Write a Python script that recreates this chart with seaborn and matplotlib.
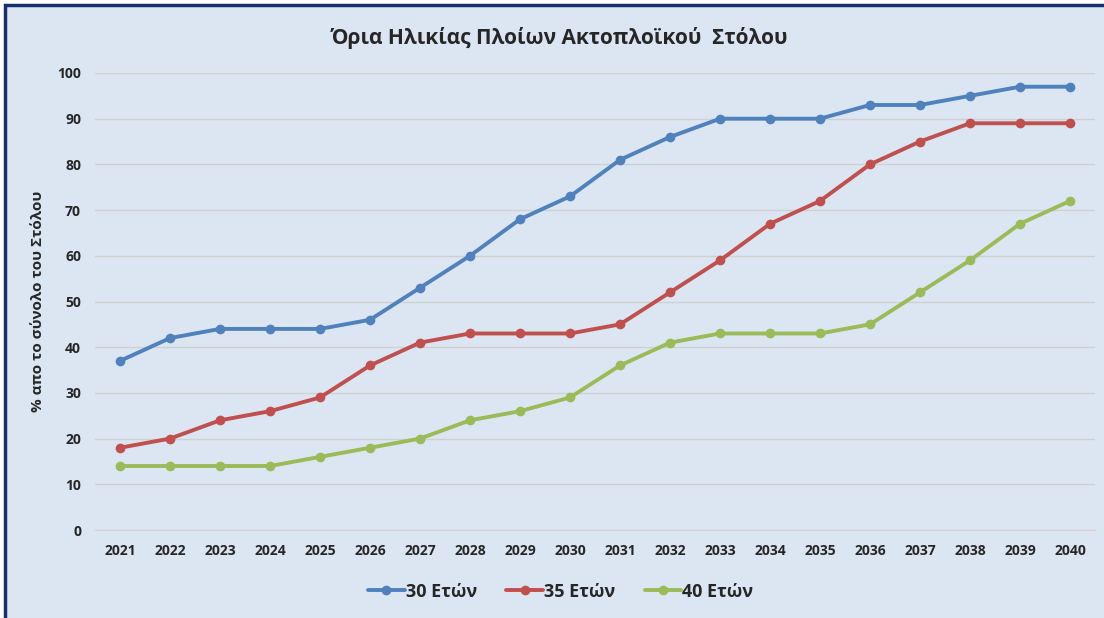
import pandas as pd
import matplotlib.pyplot as plt
import seaborn as sns
from matplotlib.patches import Rectangle

# ----------------------------------------------------------
# Data
# ----------------------------------------------------------
years = [str(y) for y in range(2021, 2041)]
age_30 = [37, 42, 44, 44, 44, 46, 53, 60, 68, 73, 81, 86, 90, 90, 90, 93, 93, 95, 97, 97]
age_35 = [18, 20, 24, 26, 29, 36, 41, 43, 43, 43, 45, 52, 59, 67, 72, 80, 85, 89, 89, 89]
age_40 = [14, 14, 14, 14, 16, 18, 20, 24, 26, 29, 36, 41, 43, 43, 43, 45, 52, 59, 67, 72]
series_names = ["30 Ετών", "35 Ετών", "40 Ετών"]
colors = ["#4f81bd", "#c0504d", "#9bbb59"]

df = pd.DataFrame({
    "year": years * 3,
    "value": age_30 + age_35 + age_40,
    "series": [s for s in series_names for _ in years],
})

# ----------------------------------------------------------
# Plot
# ----------------------------------------------------------
sns.set_style("white")
plt.rcParams["font.family"] = ["Open Sans", "DejaVu Sans"]

bg = "#dce6f2"
fig = plt.figure(figsize=(11.04, 6.18), dpi=100)
fig.patch.set_facecolor("white")

# panel background + dark blue frame (cut at right/bottom edges)
fig.patches.append(Rectangle((5 / 1104, -0.05), 1.2, 1 - 5 / 618 + 0.05,
                             transform=fig.transFigure, facecolor=bg,
                             edgecolor="#14306b", linewidth=2.5, zorder=-10))

ax = fig.add_axes([95 / 1104, 1 - 530 / 618, 1000 / 1104, (530 - 73) / 618])
ax.set_facecolor(bg)

sns.lineplot(data=df, x="year", y="value", hue="series", palette=colors,
             marker="o", markersize=7, markeredgewidth=0, linewidth=2.8,
             sort=False, ax=ax)

ax.set_xlim(-0.5, 19.5)
ax.set_ylim(0, 100)
ax.set_yticks(range(0, 101, 10))
ax.grid(axis="y", color="#d0d0d0", linewidth=1)
ax.set_axisbelow(True)
for side in ["top", "right", "left"]:
    ax.spines[side].set_visible(False)
ax.spines["bottom"].set_color("#e0cccc")
ax.tick_params(length=0, labelsize=10, pad=10)
for lab in ax.get_xticklabels() + ax.get_yticklabels():
    lab.set_fontweight("bold")
ax.set_xlabel("")
ax.set_ylabel("% απο το σύνολο του Στόλου", fontsize=11, fontweight="bold", labelpad=9)

fig.text(0.507, 1 - 38 / 618, "Όρια Ηλικίας Πλοίων Ακτοπλοϊκού  Στόλου",
         ha="center", va="center", fontsize=15, fontweight="bold")

handles, labels = ax.get_legend_handles_labels()
ax.legend(handles, labels, loc="center", bbox_to_anchor=(0.466, -0.135),
          ncol=3, frameon=False, prop={"size": 13, "weight": "bold"},
          handlelength=2.0, handletextpad=0.1, columnspacing=1.6)

plt.savefig("out.png", dpi=100, facecolor=fig.get_facecolor())
